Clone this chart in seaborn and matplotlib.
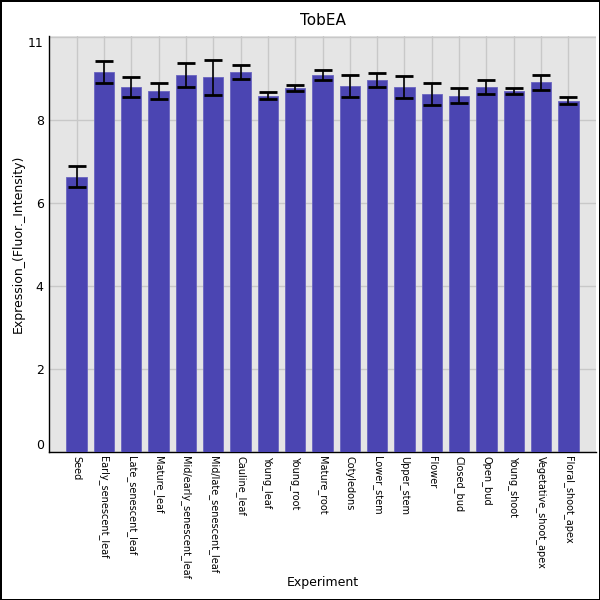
import matplotlib
matplotlib.use("Agg")
import matplotlib.pyplot as plt
import seaborn as sns
import numpy as np
import pandas as pd

# values
experiments = ["Seed", "Early_senescent_leaf", "Late_senescent_leaf", "Mature_leaf",
               "Mid/early_senescent_leaf", "Mid/late_senescent_leaf", "Cauline_leaf",
               "Young_leaf", "Young_root", "Mature_root", "Cotyledons", "Lower_stem",
               "Upper_stem", "Flower", "Closed_bud", "Open_bud", "Young_shoot",
               "Vegetative_shoot_apex", "Floral_shoot_apex"]
expression = [6.63, 9.15, 8.79, 8.70, 9.08, 9.03, 9.15, 8.58, 8.77, 9.08,
              8.82, 8.96, 8.79, 8.62, 8.58, 8.79, 8.70, 8.91, 8.46]
error = [0.25, 0.27, 0.23, 0.19, 0.28, 0.42, 0.17, 0.09, 0.08, 0.13,
         0.27, 0.18, 0.27, 0.27, 0.18, 0.16, 0.07, 0.18, 0.09]

ytick_pos = [0, 2, 4, 6, 8, 10]
ytick_labels = ["0", "2", "4", "6", "8", "11"]

df = pd.DataFrame({"Experiment": experiments, "Expression": expression, "err": error})

sns.set_style("white")
plt.rcParams["font.family"] = ["DejaVu Sans"]
plt.rcParams["text.color"] = "black"
plt.rcParams["axes.labelcolor"] = "black"
plt.rcParams["xtick.color"] = "black"
plt.rcParams["ytick.color"] = "black"

fig = plt.figure(figsize=(6, 6), dpi=100, edgecolor="black", linewidth=2)
ax = fig.add_axes([0.082, 0.247, 0.911, 0.693])
ax.set_facecolor("#e5e5e5")

sns.barplot(data=df, x="Experiment", y="Expression", color="#4b45b2",
            saturation=1, width=0.74, errorbar=None, ax=ax, zorder=3,
            edgecolor="#6a65c0", linewidth=0.6)

# error bars centred on each bar
centers = [p.get_x() + p.get_width() / 2 for p in ax.patches]
ax.errorbar(centers, df["Expression"], yerr=df["err"], fmt="none",
            ecolor="black", elinewidth=1.2, capsize=6.5, capthick=2, zorder=4)

ax.set_xlim(-1, len(experiments))
ax.set_ylim(0, 10.02)
ax.set_yticks(ytick_pos)
ax.set_yticklabels(ytick_labels, fontsize=9)
labels = ax.get_yticklabels()
labels[0].set_va("bottom")
labels[-1].set_va("top")

ax.grid(True, color="#c8c8c8", linewidth=1, zorder=0)
ax.set_axisbelow(True)
ax.tick_params(axis="both", length=0, pad=4)
ax.tick_params(axis="x", labelsize=7, labelrotation=270, pad=3)

for side in ["top", "right"]:
    ax.spines[side].set_visible(False)
for side in ["left", "bottom"]:
    ax.spines[side].set_color("black")
    ax.spines[side].set_linewidth(1)

ax.set_title("TobEA", fontsize=11, pad=8, color="black")
ax.set_xlabel("Experiment", fontsize=9, labelpad=-2)
ax.set_ylabel("Expression_(Fluor._Intensity)", fontsize=9, labelpad=2)

fig.savefig("out.png", dpi=100, edgecolor=fig.get_edgecolor())
